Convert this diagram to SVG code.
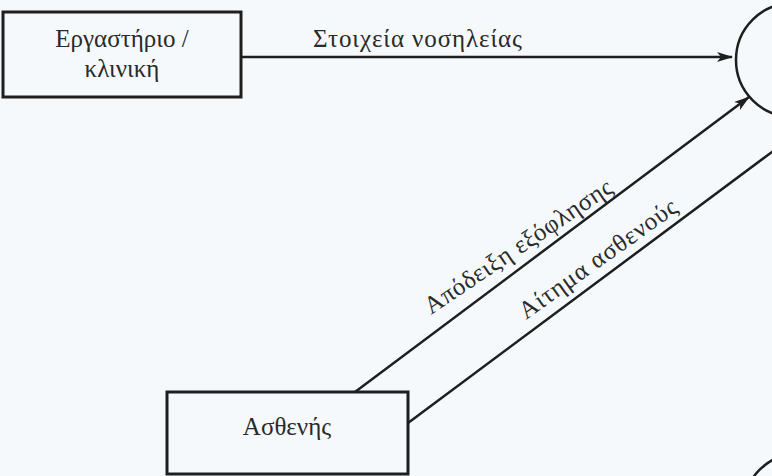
<svg xmlns="http://www.w3.org/2000/svg" width="772" height="476" viewBox="0 0 772 476">
<style>
.bg{fill:#f5f9fb}
.box{fill:none;stroke:#1e1e1e;stroke-width:3}
.proc{fill:none;stroke:#1e1e1e;stroke-width:2.5}
.flow{fill:none;stroke:#1e1e1e;stroke-width:2.5}
text{font-family:"Liberation Serif","DejaVu Serif",serif;font-size:25px;fill:#2a2a2a}
</style>
<defs>
<marker id="arr" viewBox="0 0 16 10" refX="15" refY="5" markerWidth="16" markerHeight="10" markerUnits="userSpaceOnUse" orient="auto">
<path d="M0,0 L16,5 L0,10 L4,5 Z" fill="#1e1e1e"/>
</marker>
</defs>
<rect class="bg" x="0" y="0" width="772" height="476"/>
<g id="connectors">
<line class="flow" x1="241" y1="57" x2="732" y2="57" marker-end="url(#arr)"/>
<line class="flow" x1="355" y1="392" x2="749" y2="97" marker-end="url(#arr)"/>
<line class="flow" x1="408" y1="423" x2="780" y2="146"/>
<text x="313" y="47" textLength="209">Στοιχεία νοσηλείας</text>
<text transform="translate(431,315) rotate(-34)" textLength="221">Απόδειξη εξόφλησης</text>
<text transform="translate(526,320) rotate(-35.5)" textLength="188">Αίτημα ασθενούς</text>
</g>
<g id="lab">
<rect class="box" x="3" y="12" width="238" height="85"/>
<text x="122" y="47" text-anchor="middle">Εργαστήριο /</text>
<text x="122" y="77" text-anchor="middle">κλινική</text>
</g>
<g id="patient">
<rect class="box" x="167" y="392" width="241" height="82"/>
<text x="287" y="435" text-anchor="middle">Ασθενής</text>
</g>
<g id="process1">
<circle class="proc" cx="793" cy="60" r="57"/>
</g>
<g id="process2">
<circle class="proc" cx="800" cy="510" r="57"/>
</g>
</svg>
